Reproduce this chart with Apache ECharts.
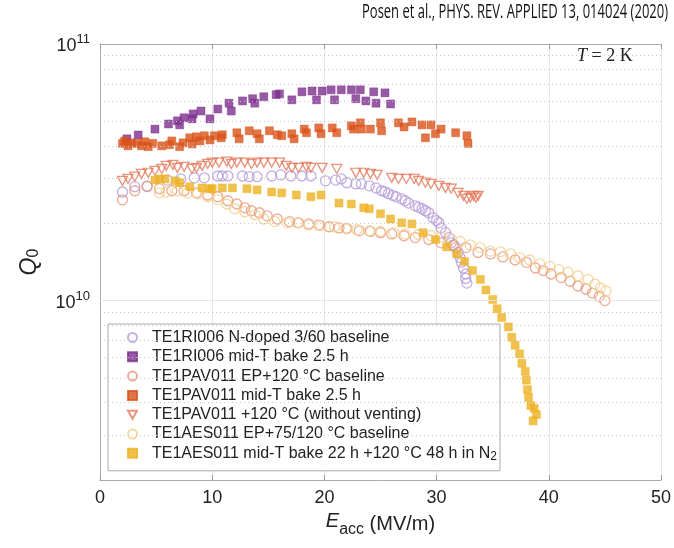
<!DOCTYPE html>
<html lang="en">
<head>
<meta charset="UTF-8" />
<title>Q0 vs Eacc</title>
<script src="https://cdn.jsdelivr.net/npm/echarts@6/dist/echarts.min.js"></script>
<style>
  html, body { margin: 0; padding: 0; background: #fff; }
  #main { width: 674px; height: 548px; }
</style>
</head>
<body>
<div id="main"></div>
<script>
// Q0 values are in units of 1e10
const ri006BaseE = [2.0, 3.1, 4.2, 6.0, 7.2, 8.4, 9.3, 10.5, 10.9, 11.4, 12.7, 13.3, 14.0, 15.3, 16.1, 17.0, 18.0, 18.8, 20.1, 21.0, 21.5, 22.0, 22.8, 23.3, 24.0, 24.6, 25.1, 25.4, 25.7, 26.1, 26.4, 26.9, 27.2, 27.5, 28.1, 28.4, 28.7, 29.0, 29.3, 29.7, 30.0, 30.2, 30.4, 30.8, 31.1, 31.3, 31.5, 31.7, 31.9, 32.1, 32.2, 32.4, 32.6, 32.6, 32.7];
const ri006BaseQ = [2.65, 2.78, 2.78, 2.95, 2.98, 3.01, 3.01, 3.06, 3.06, 3.06, 3.06, 3.04, 3.04, 3.06, 3.09, 3.06, 3.06, 3.06, 2.93, 2.95, 2.98, 2.88, 2.85, 2.85, 2.80, 2.75, 2.68, 2.66, 2.61, 2.57, 2.54, 2.49, 2.45, 2.40, 2.34, 2.31, 2.28, 2.24, 2.20, 2.10, 2.05, 2.01, 1.92, 1.84, 1.76, 1.68, 1.64, 1.61, 1.54, 1.47, 1.41, 1.34, 1.27, 1.22, 1.17];

const ri006MidE = [2.4, 3.4, 4.9, 6.1, 6.9, 7.1, 7.5, 8.2, 8.3, 9.0, 9.8, 10.5, 11.5, 11.7, 12.7, 13.6, 13.8, 14.6, 15.7, 16.0, 17.1, 18.0, 18.9, 19.3, 19.8, 20.6, 20.9, 21.5, 22.4, 22.8, 23.2, 23.7, 24.4, 24.6, 25.4, 25.9];
const ri006MidQ = [4.27, 4.42, 4.66, 4.88, 5.02, 4.84, 5.16, 5.11, 5.34, 5.48, 5.11, 5.58, 5.88, 5.48, 6.00, 6.12, 5.88, 6.23, 6.35, 6.39, 6.06, 6.51, 6.56, 6.06, 6.56, 6.63, 6.06, 6.63, 6.63, 6.12, 6.63, 6.00, 6.51, 5.88, 6.45, 5.84];

const pav011BaseE = [2.0, 3.1, 4.2, 5.3, 6.4, 7.5, 8.6, 9.6, 10.5, 11.4, 12.2, 12.9, 13.5, 14.2, 14.9, 15.8, 16.9, 17.7, 18.6, 19.5, 20.4, 21.3, 22.0, 23.1, 24.1, 25.0, 26.0, 27.1, 28.1, 29.3, 30.4, 31.5, 32.6, 33.7, 34.8, 35.9, 37.0, 38.0, 38.8, 39.5, 40.2, 41.1, 41.9, 42.6, 43.3, 43.9, 44.5, 45.0];
const pav011BaseQ = [2.47, 2.68, 2.80, 2.73, 2.68, 2.68, 2.63, 2.58, 2.54, 2.45, 2.38, 2.30, 2.24, 2.20, 2.14, 2.08, 2.03, 2.01, 1.99, 1.97, 1.94, 1.92, 1.91, 1.87, 1.86, 1.84, 1.82, 1.79, 1.76, 1.73, 1.68, 1.65, 1.61, 1.54, 1.52, 1.48, 1.44, 1.41, 1.34, 1.31, 1.27, 1.23, 1.19, 1.14, 1.11, 1.07, 1.04, 1.00];

const pav011MidE = [2.0, 2.2, 2.5, 2.8, 3.3, 3.7, 4.0, 4.3, 4.7, 5.5, 6.2, 6.4, 7.1, 7.4, 8.0, 8.2, 8.6, 8.9, 9.3, 9.8, 10.2, 10.8, 10.9, 12.2, 12.4, 13.3, 14.0, 14.2, 15.1, 15.8, 16.2, 17.1, 17.3, 18.2, 18.4, 19.5, 19.7, 20.7, 21.1, 22.4, 22.6, 23.2, 23.3, 24.1, 25.0, 25.1, 26.6, 27.1, 27.8, 28.7, 29.0, 29.5, 29.9, 30.4, 31.7, 32.7, 32.8];
const pav011MidQ = [4.10, 4.19, 4.01, 4.12, 4.10, 4.01, 4.16, 3.98, 4.10, 4.01, 4.05, 4.19, 3.98, 4.12, 4.31, 4.08, 4.35, 4.19, 4.39, 4.23, 4.39, 4.31, 4.43, 4.51, 4.27, 4.59, 4.47, 4.27, 4.59, 4.43, 4.39, 4.47, 4.27, 4.66, 4.51, 4.71, 4.47, 4.71, 4.51, 4.80, 4.66, 4.93, 4.66, 4.66, 4.93, 4.59, 4.93, 4.75, 4.97, 4.84, 4.31, 4.84, 4.47, 4.66, 4.51, 4.39, 4.10];

const pav011VentE = [2.0, 2.5, 3.1, 3.7, 4.3, 4.9, 5.5, 5.9, 6.5, 6.9, 7.5, 8.2, 8.6, 9.1, 9.6, 10.0, 10.6, 11.3, 11.7, 12.2, 12.9, 13.5, 14.0, 14.6, 15.3, 16.0, 16.6, 17.1, 17.7, 18.4, 18.8, 19.8, 21.1, 22.8, 23.5, 24.1, 24.7, 26.0, 26.6, 27.3, 28.0, 28.4, 29.0, 29.5, 30.2, 30.8, 31.3, 31.9, 32.4, 32.7, 33.0, 33.3, 33.5, 33.7];
const pav011VentQ = [2.93, 2.98, 3.04, 3.12, 3.15, 3.20, 3.26, 3.35, 3.38, 3.29, 3.32, 3.26, 3.29, 3.35, 3.41, 3.45, 3.45, 3.48, 3.41, 3.45, 3.45, 3.41, 3.45, 3.45, 3.45, 3.45, 3.35, 3.29, 3.29, 3.32, 3.29, 3.29, 3.26, 3.15, 3.15, 3.12, 3.09, 3.01, 2.98, 2.98, 2.98, 2.93, 2.88, 2.85, 2.80, 2.75, 2.73, 2.63, 2.56, 2.49, 2.52, 2.56, 2.52, 2.56];

const aes011BaseE = [5.3, 5.9, 6.9, 7.8, 8.7, 9.6, 10.5, 11.3, 12.0, 12.9, 13.8, 14.6, 15.6, 16.7, 17.6, 18.6, 19.7, 20.9, 21.9, 22.9, 24.0, 25.0, 26.2, 27.2, 28.4, 29.5, 30.4, 31.3, 32.1, 33.0, 33.9, 34.8, 35.7, 36.6, 37.4, 38.3, 39.2, 40.1, 40.9, 41.7, 42.6, 43.5, 44.1, 44.6, 45.1];
const aes011BaseQ = [2.63, 2.65, 2.68, 2.63, 2.61, 2.54, 2.47, 2.38, 2.28, 2.22, 2.16, 2.08, 2.03, 2.01, 2.01, 1.97, 1.96, 1.94, 1.91, 1.89, 1.87, 1.86, 1.84, 1.82, 1.81, 1.79, 1.77, 1.74, 1.70, 1.65, 1.61, 1.56, 1.55, 1.52, 1.47, 1.44, 1.39, 1.36, 1.32, 1.29, 1.25, 1.21, 1.16, 1.12, 1.09];

const aes011MidE = [4.9, 5.3, 5.8, 6.7, 7.1, 8.0, 9.1, 9.8, 10.0, 10.9, 11.8, 13.1, 14.0, 15.3, 16.2, 17.5, 18.8, 19.7, 21.3, 22.4, 23.5, 24.0, 25.0, 25.9, 26.9, 27.8, 28.8, 29.9, 30.9, 31.8, 32.5, 33.2, 33.9, 34.4, 35.0, 35.4, 35.8, 36.4, 36.7, 37.0, 37.4, 37.6, 37.9, 38.0, 38.1, 38.2, 38.4, 38.7, 38.9, 38.6];
const aes011MidQ = [2.95, 2.98, 2.98, 2.93, 2.88, 2.78, 2.75, 2.73, 2.73, 2.75, 2.75, 2.73, 2.70, 2.65, 2.63, 2.58, 2.54, 2.58, 2.40, 2.38, 2.30, 2.28, 2.18, 2.08, 2.01, 1.99, 1.84, 1.73, 1.62, 1.52, 1.42, 1.31, 1.21, 1.10, 1.01, 0.93, 0.86, 0.79, 0.72, 0.67, 0.62, 0.57, 0.53, 0.49, 0.45, 0.42, 0.39, 0.38, 0.36, 0.34];

const seriesNames = [
  'TE1RI006 N-doped 3/60 baseline',
  'TE1RI006 mid-T bake 2.5 h',
  'TE1PAV011 EP+120 °C baseline',
  'TE1PAV011 mid-T bake 2.5 h',
  'TE1PAV011 +120 °C (without venting)',
  'TE1AES011 EP+75/120 °C baseline',
  'TE1AES011 mid-T bake 22 h +120 °C 48 h in N2'
];

const xTicks = [0, 10, 20, 30, 40, 50];
const yMin = 2e9;
const yMax = 1e11;
const minorGrid = [3e9, 4e9, 5e9, 6e9, 7e9, 8e9, 9e9, 2e10, 3e10, 4e10, 5e10, 6e10, 7e10, 8e10, 9e10];

const PURPLE = '#7E2F8E';
const ORANGE = '#D95319';
const YELLOW = '#EDB120';
const FONT = 'Liberation Sans';
const DOWN_TRIANGLE = 'path://M0,0L10,0L5,9Z';

function pts(es, qs) {
  return es.map((e, i) => [e, qs[i] * 1e10]);
}

function hollow(name, es, qs, color, symbol, size) {
  return {
    name: name,
    type: 'scatter',
    data: pts(es, qs),
    symbol: symbol,
    symbolSize: size,
    itemStyle: { color: 'rgba(255,255,255,0)', borderColor: color, borderWidth: 1.3 },
    emphasis: { disabled: true }
  };
}

function filled(name, es, qs, color) {
  return {
    name: name,
    type: 'scatter',
    data: pts(es, qs),
    symbol: 'rect',
    symbolSize: 8,
    itemStyle: { color: color, borderColor: color, borderWidth: 0.5 },
    emphasis: { disabled: true }
  };
}

// squeeze the citation line to the width it has in the figure
const citeText = 'Posen et al., PHYS. REV. APPLIED 13, 014024 (2020)';
const citeFont = '20px "Open Sans"';
const ctx = document.createElement('canvas').getContext('2d');
ctx.font = citeFont;
const citeScale = 306 / ctx.measureText(citeText).width;

const chart = echarts.init(document.getElementById('main'), null, { renderer: 'canvas' });

const option = {
  backgroundColor: '#fff',
  animation: false,
  grid: { left: 100, right: 10, top: 44, bottom: 68 },
  graphic: [
    {
      type: 'text', x: 668, y: 2, scaleX: citeScale,
      style: { text: citeText, font: citeFont, fill: '#111', align: 'right' }
    },
    {
      type: 'text', x: 577, y: 47, z: 10,
      style: {
        text: '{i|T} = 2 K',
        font: '18px "Liberation Serif"', fill: '#222',
        rich: { i: { fontStyle: 'italic', fontFamily: 'Liberation Serif', fontSize: 18 } }
      }
    }
  ],
  legend: {
    orient: 'vertical',
    left: 108, top: 324,
    padding: [4, 3, 8, 19],
    itemWidth: 9, itemHeight: 9, itemGap: 0.3,
    backgroundColor: '#fff',
    borderColor: '#aaa', borderWidth: 1,
    selectedMode: false,
    data: seriesNames,
    formatter: function (n) { return '{g| }' + n.replace(/N2$/, 'N{sub|2}'); },
    textStyle: {
      fontFamily: FONT, fontSize: 16, color: '#222', lineHeight: 19,
      rich: {
        g: { width: 10, fontSize: 16, lineHeight: 19 },
        sub: { fontFamily: FONT, fontSize: 12, color: '#222', lineHeight: 5, verticalAlign: 'bottom' }
      }
    }
  },
  xAxis: [
    {
      type: 'value', min: 0, max: 50, interval: 10,
      name: '{i|E}{sub|acc} (MV/m)', nameLocation: 'middle', nameGap: 30,
      nameTextStyle: {
        fontFamily: FONT, fontSize: 20, color: '#222', lineHeight: 26, verticalAlign: 'top',
        rich: {
          i: { fontFamily: FONT, fontSize: 20, fontStyle: 'italic', color: '#222', lineHeight: 22, verticalAlign: 'top' },
          sub: { fontFamily: FONT, fontSize: 16, color: '#222', lineHeight: 4, verticalAlign: 'bottom' }
        }
      },
      axisLine: { show: true, lineStyle: { color: '#aaa' } },
      axisTick: { inside: true, length: 5, lineStyle: { color: '#999' } },
      axisLabel: {
        fontFamily: FONT, fontSize: 18, color: '#222', margin: 9,
        formatter: function (v) { return xTicks.indexOf(v) >= 0 ? String(v) : ''; }
      },
      splitLine: { show: true, lineStyle: { color: '#e6e6e6', width: 1 } }
    },
    {
      type: 'value', min: 0, max: 50, interval: 10, position: 'top',
      axisLine: { show: true, lineStyle: { color: '#aaa' } },
      axisTick: { inside: true, length: 5, lineStyle: { color: '#999' } },
      axisLabel: { show: false },
      splitLine: { show: false }
    }
  ],
  yAxis: [
    {
      type: 'log', logBase: 10, min: yMin, max: yMax,
      name: '{i|Q}{sub|0}', nameLocation: 'middle', nameGap: 58, nameRotate: 90,
      nameTextStyle: {
        fontFamily: FONT, fontSize: 22, color: '#222', lineHeight: 26,
        rich: {
          i: { fontFamily: FONT, fontSize: 23, fontStyle: 'italic', color: '#222', lineHeight: 24, verticalAlign: 'top' },
          sub: { fontFamily: FONT, fontSize: 16, color: '#222', lineHeight: 4, verticalAlign: 'bottom' }
        }
      },
      axisLine: { show: true, lineStyle: { color: '#aaa' } },
      axisTick: { show: false },
      splitLine: { show: false },
      axisLabel: {
        margin: 10,
        formatter: function (v) {
          const e = Math.log10(v);
          if (Math.abs(e - Math.round(e)) > 1e-6) return '';
          return '{b|10}{sup|' + Math.round(e) + '}';
        },
        rich: {
          b: { fontFamily: FONT, fontSize: 18, color: '#222', lineHeight: 22, verticalAlign: 'bottom' },
          sup: { fontFamily: FONT, fontSize: 13, color: '#222', lineHeight: 6, verticalAlign: 'top' }
        }
      }
    },
    {
      type: 'log', logBase: 10, min: yMin, max: yMax, position: 'right',
      axisLine: { show: true, lineStyle: { color: '#aaa' } },
      axisTick: { show: false },
      axisLabel: { show: false },
      splitLine: { show: false }
    }
  ],
  series: [
    {
      name: 'grid',
      type: 'scatter',
      data: [],
      silent: true,
      z: 1,
      markLine: {
        silent: true,
        symbol: ['none', 'none'],
        label: { show: false },
        animation: false,
        lineStyle: { color: '#c8c8c8', type: [1, 3], width: 1 },
        data: minorGrid.map(v => ({ yAxis: v })).concat([
          { yAxis: 1e10, lineStyle: { color: '#e6e6e6', type: 'solid', width: 1 } }
        ])
      }
    },
    hollow(seriesNames[0], ri006BaseE, ri006BaseQ, '#b49bd8', 'circle', 10),
    filled(seriesNames[1], ri006MidE, ri006MidQ, PURPLE),
    hollow(seriesNames[2], pav011BaseE, pav011BaseQ, '#e8967a', 'circle', 10),
    filled(seriesNames[3], pav011MidE, pav011MidQ, ORANGE),
    hollow(seriesNames[4], pav011VentE, pav011VentQ, '#e2785a', DOWN_TRIANGLE, [10, 9]),
    hollow(seriesNames[5], aes011BaseE, aes011BaseQ, '#f2cf8e', 'circle', 10),
    filled(seriesNames[6], aes011MidE, aes011MidQ, YELLOW)
  ]
};

chart.setOption(option);

window.onresize = function () {
  chart.resize();
};
</script>
</body>
</html>
